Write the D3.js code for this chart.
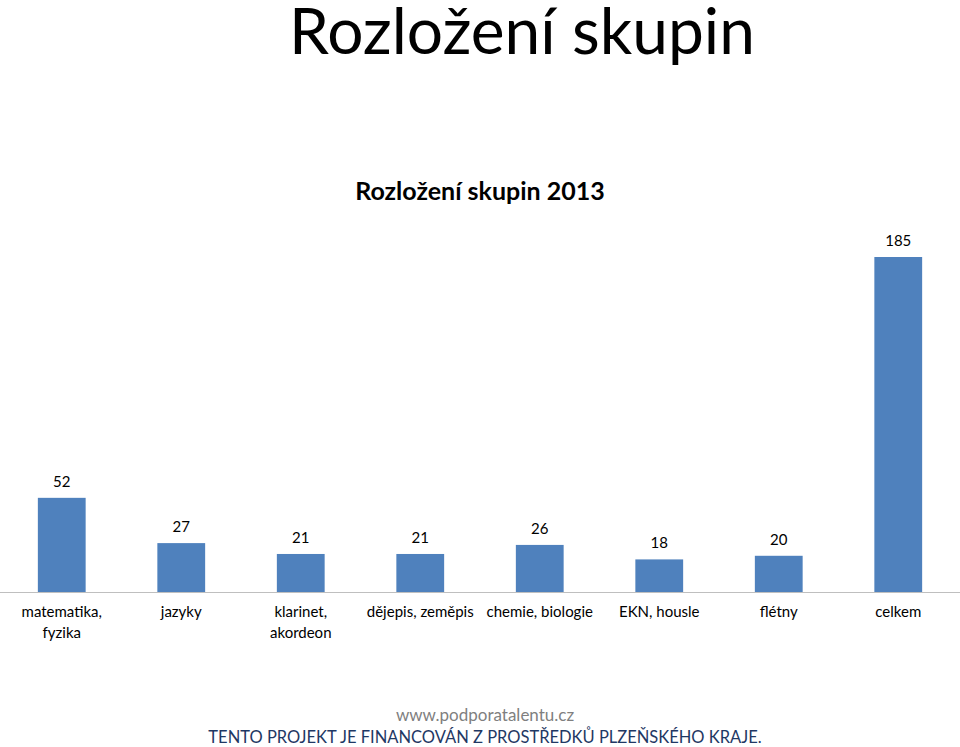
<!DOCTYPE html>
<html><head><meta charset="utf-8">
<script src="https://cdn.jsdelivr.net/npm/d3@7"></script>
<style>body{margin:0;background:#fff}svg{font-family:Lato,"Open Sans",sans-serif}</style>
</head><body>
<script>
const categories = [["matematika,","fyzika"],["jazyky"],["klarinet,","akordeon"],["dějepis, zeměpis"],["chemie, biologie"],["EKN, housle"],["flétny"],["celkem"]];
const values = [52,27,21,21,26,18,20,185];

const W=960,H=747,base=592;
const svg=d3.select("body").append("svg").attr("width",W).attr("height",H);
const x=d3.scaleBand().domain(d3.range(values.length)).range([2,958]).paddingInner(0.6).paddingOuter(0.3);
const y=d3.scaleLinear().domain([0,185]).range([base,257]);

svg.append("text").attr("x",522).attr("y",54).attr("text-anchor","middle").attr("font-size",64).attr("fill","#000").text("Rozložení skupin");
svg.append("text").attr("x",480).attr("y",200).attr("text-anchor","middle").attr("font-size",25).attr("font-weight","bold").text("Rozložení skupin 2013");

svg.selectAll("rect.b").data(values).join("rect").attr("x",(d,i)=>x(i)).attr("width",x.bandwidth())
 .attr("y",d=>y(d)).attr("height",d=>base-y(d)).attr("fill","#4f81bd");
svg.append("line").attr("x1",0).attr("x2",W).attr("y1",base+0.5).attr("y2",base+0.5).attr("stroke","#bfbfbf");
svg.selectAll("text.v").data(values).join("text").attr("x",(d,i)=>x(i)+x.bandwidth()/2).attr("y",d=>y(d)-11)
 .attr("text-anchor","middle").attr("font-size",15).text(d=>d);
categories.forEach((c,i)=>{c.forEach((l,j)=>svg.append("text").attr("x",x(i)+x.bandwidth()/2).attr("y",617+j*21)
 .attr("text-anchor","middle").attr("font-size",15).text(l));});

svg.append("text").attr("x",485).attr("y",721).attr("text-anchor","middle").attr("font-size",17).attr("fill","#7f7f7f").text("www.podporatalentu.cz");
svg.append("text").attr("x",485).attr("y",743).attr("text-anchor","middle").attr("font-size",16.5).attr("fill","#1f3864").text("TENTO PROJEKT JE FINANCOVÁN Z PROSTŘEDKŮ PLZEŇSKÉHO KRAJE.");
</script></body></html>
